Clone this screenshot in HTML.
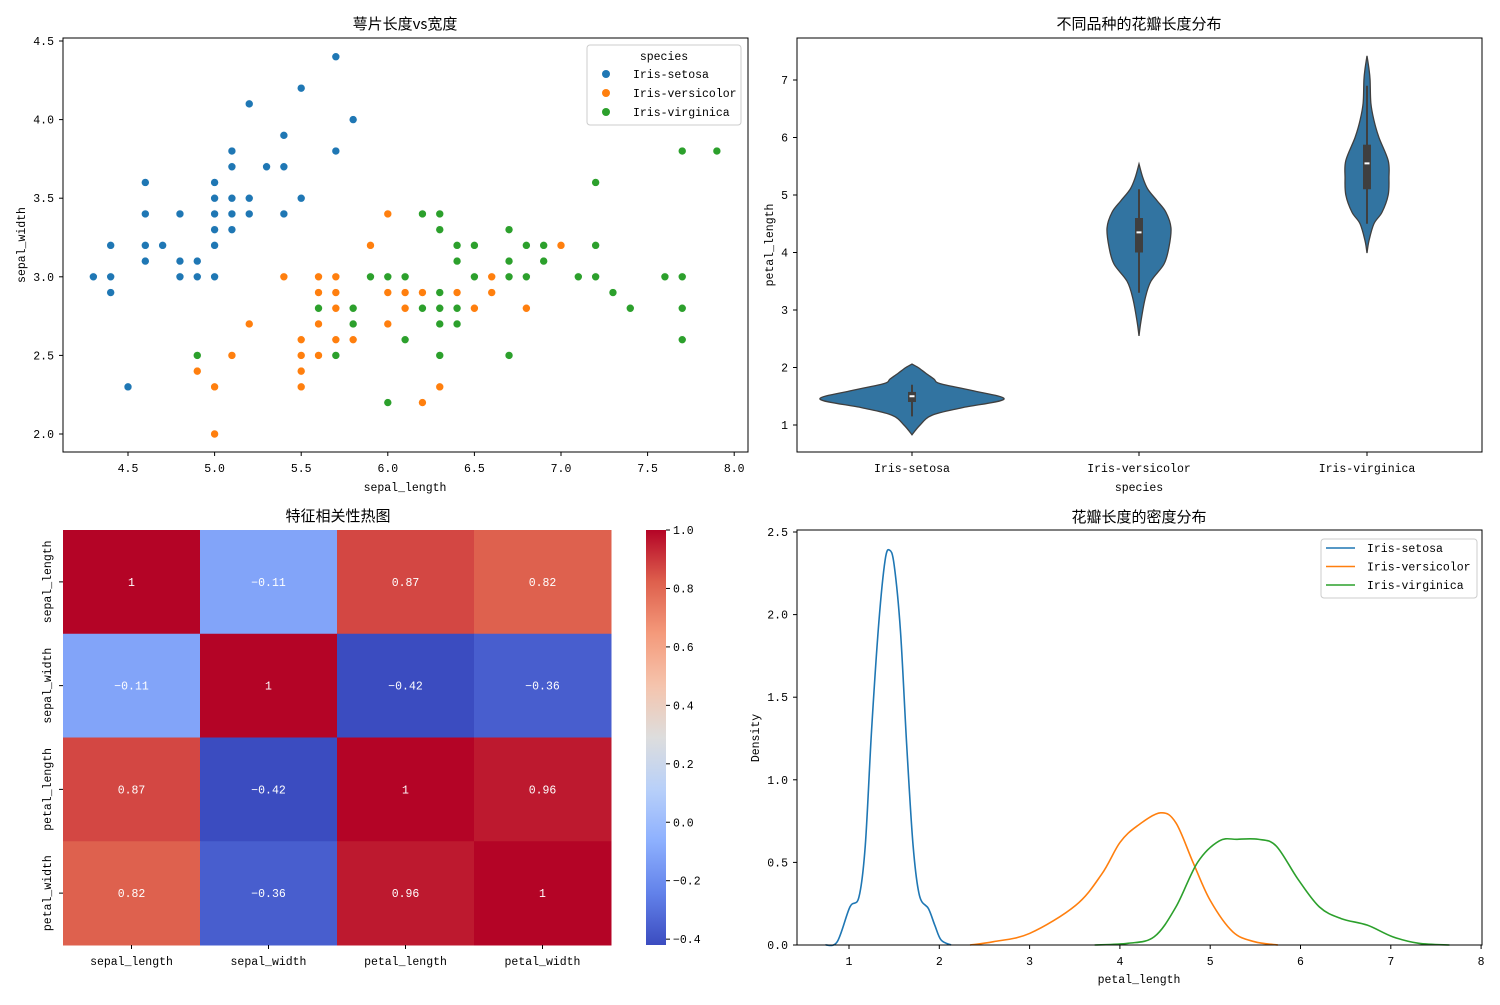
<!DOCTYPE html>
<html><head><meta charset="utf-8"><style>
body{margin:0;background:#fff}
svg text{font-family:"Liberation Mono","WenQuanYi Zen Hei",monospace;fill:#000}
svg text.cjk{font-family:"WenQuanYi Zen Hei","Noto Sans CJK SC",sans-serif}
</style></head><body>
<svg id="c" width="1500" height="1000" xmlns="http://www.w3.org/2000/svg"></svg>
<script>
// ---------- data ----------
const speciesNames=["Iris-setosa","Iris-versicolor","Iris-virginica"];
const speciesColors=["#1f77b4","#ff7f0e","#2ca02c"];
const setosaSL=[4.3,4.4,4.4,4.4,4.5,4.6,4.6,4.6,4.6,4.7,4.8,4.8,4.8,4.9,4.9,5.0,5.0,5.0,5.0,5.0,5.0,5.1,5.1,5.1,5.1,5.1,5.2,5.2,5.2,5.3,5.4,5.4,5.4,5.5,5.5,5.7,5.7,5.8];
const setosaSW=[3.0,3.2,3.0,2.9,2.3,3.6,3.4,3.2,3.1,3.2,3.4,3.1,3.0,3.1,3.0,3.6,3.5,3.4,3.3,3.2,3.0,3.8,3.7,3.5,3.4,3.3,4.1,3.5,3.4,3.7,3.9,3.7,3.4,4.2,3.5,4.4,3.8,4.0];
const versiSL=[5.4,6.0,5.9,5.6,5.7,5.6,5.7,6.0,6.1,5.7,6.1,5.2,5.6,6.0,5.5,5.7,5.8,5.1,5.5,5.6,4.9,5.5,5.0,5.5,5.0,7.0,6.6,6.1,6.2,6.4,6.6,6.1,6.5,6.8,6.3,6.2];
const versiSW=[3.0,3.4,3.2,3.0,3.0,2.9,2.9,2.9,2.9,2.8,2.8,2.7,2.7,2.7,2.6,2.6,2.6,2.5,2.5,2.5,2.4,2.4,2.3,2.3,2.0,3.2,3.0,2.9,2.9,2.9,2.9,2.8,2.8,2.8,2.3,2.2];
const virgSL=[5.8,5.6,5.8,4.9,5.7,5.9,6.0,6.1,6.1,6.0,7.7,7.9,7.2,6.2,6.3,6.3,6.7,6.4,6.5,6.8,6.9,7.2,6.4,6.7,6.9,6.1,6.5,6.7,6.8,7.1,7.2,7.6,7.7,6.3,7.3,6.2,6.3,6.4,7.4,7.7,6.3,6.4,6.1,7.7,6.3,6.7];
const virgSW=[2.8,2.8,2.7,2.5,2.5,3.0,3.0,3.0,2.6,2.2,3.8,3.8,3.6,3.4,3.4,3.3,3.3,3.2,3.2,3.2,3.2,3.2,3.1,3.1,3.1,3.0,3.0,3.0,3.0,3.0,3.0,3.0,3.0,2.9,2.9,2.8,2.8,2.8,2.8,2.8,2.7,2.7,2.6,2.6,2.5,2.5];
const scatterXTicks=[4.5,5.0,5.5,6.0,6.5,7.0,7.5,8.0];
const scatterYTicks=[2.0,2.5,3.0,3.5,4.0,4.5];

const setosaVY=[0.83,1.0,1.17,1.3,1.45,1.6,1.72,1.8,1.9,2.0,2.06];
const setosaVD=[0,0.21,0.52,1.3,2.39,1.56,0.73,0.57,0.36,0.16,0];
const versiVY=[2.55,2.8,3.2,3.5,3.8,4.1,4.43,4.7,4.9,5.1,5.3,5.54];
const versiVD=[0,0.05,0.16,0.31,0.65,0.78,0.83,0.7,0.47,0.23,0.1,0];
const virgVY=[3.99,4.2,4.5,4.7,5.0,5.3,5.6,6.0,6.3,6.6,7.0,7.2,7.42];
const virgVD=[0,0.05,0.18,0.39,0.55,0.57,0.55,0.31,0.18,0.1,0.08,0.05,0];
const boxQ1=[1.4,4.0,5.1],boxQ3=[1.575,4.6,5.875],boxMed=[1.5,4.35,5.55],whiskLo=[1.15,3.3,4.5],whiskHi=[1.7,5.1,6.9];
const violinYTicks=[1,2,3,4,5,6,7];

const features=["sepal_length","sepal_width","petal_length","petal_width"];
const corrRow0=[1,-0.11,0.87,0.82];
const corrRow1=[-0.11,1,-0.42,-0.36];
const corrRow2=[0.87,-0.42,1,0.96];
const corrRow3=[0.82,-0.36,0.96,1];
const corrLabels=[["1","-0.11","0.87","0.82"],["-0.11","1","-0.42","-0.36"],["0.87","-0.42","1","0.96"],["0.82","-0.36","0.96","1"]];
const cbarTicks=[-0.4,-0.2,0.0,0.2,0.4,0.6,0.8,1.0];

const kdeSetX=[0.74,0.87,1.01,1.11,1.18,1.25,1.33,1.40,1.45,1.50,1.57,1.64,1.71,1.78,1.88,1.95,2.02,2.13];
const kdeSetY=[0,0.02,0.23,0.29,0.6,1.3,1.95,2.33,2.39,2.3,1.9,1.2,0.6,0.3,0.22,0.12,0.03,0];
const kdeVerX=[2.34,2.6,3.0,3.51,3.8,4.0,4.19,4.45,4.62,4.81,5.0,5.25,5.49,5.75];
const kdeVerY=[0,0.02,0.07,0.24,0.43,0.62,0.72,0.8,0.74,0.5,0.27,0.08,0.02,0];
const kdeVirX=[3.72,4.09,4.38,4.62,4.86,5.1,5.3,5.53,5.73,5.97,6.21,6.45,6.74,7.02,7.31,7.65];
const kdeVirY=[0,0.01,0.05,0.23,0.5,0.63,0.64,0.64,0.6,0.4,0.23,0.16,0.12,0.05,0.01,0];
const kdeXTicks=[1,2,3,4,5,6,7,8];
const kdeYTicks=[0.0,0.5,1.0,1.5,2.0,2.5];

// ---------- helpers ----------
const NS="http://www.w3.org/2000/svg";const svg=document.getElementById('c');
function mk(tag,attrs,parent){const e=document.createElementNS(NS,tag);for(const k in attrs)e.setAttribute(k,attrs[k]);(parent||svg).appendChild(e);return e;}
function txt(s,x,y,size,anchor,parent,rot){const e=mk('text',{x:x,y:y,'font-size':size,'text-anchor':anchor||'middle'},parent);if(rot)e.setAttribute('transform','rotate(-90 '+x+' '+y+')');e.textContent=s;return e;}
function fmt(v){return v.toFixed(1).replace('-','−');}
function smooth(pts){let d='M'+pts[0][0]+','+pts[0][1];for(let i=0;i<pts.length-1;i++){const p0=pts[i-1]||pts[i],p1=pts[i],p2=pts[i+1],p3=pts[i+2]||p2;const c1=[p1[0]+(p2[0]-p0[0])/6,p1[1]+(p2[1]-p0[1])/6],c2=[p2[0]-(p3[0]-p1[0])/6,p2[1]-(p3[1]-p1[1])/6];d+=' C'+c1[0]+','+c1[1]+' '+c2[0]+','+c2[1]+' '+p2[0]+','+p2[1];}return d;}
function frame(x0,y0,x1,y1,name){const r=mk('rect',{x:x0,y:y0,width:x1-x0,height:y1-y0,fill:'none',stroke:'#000','stroke-width':1});}
const FS=11.5;

// ---------- scatter ----------
(function(){
const g=mk('g',{});
const sx=v=>128+(v-4.5)*173.2, sy=v=>434-(v-2.0)*157.2;
const xs=[setosaSL,versiSL,virgSL],ys=[setosaSW,versiSW,virgSW];
for(let s=0;s<3;s++)for(let i=0;i<xs[s].length;i++){const c=mk('circle',{cx:sx(xs[s][i]),cy:sy(ys[s][i]),r:4,fill:speciesColors[s],stroke:'#fff','stroke-width':0.6},g);}
frame(63,38,748,452,'scatter-frame');
scatterXTicks.forEach(v=>{mk('line',{x1:sx(v),x2:sx(v),y1:452,y2:456,stroke:'#000'},g);const t=txt(fmt(v),sx(v),472,FS,'middle',g);});
scatterYTicks.forEach(v=>{mk('line',{x1:59,x2:63,y1:sy(v),y2:sy(v),stroke:'#000'},g);const t=txt(fmt(v),54,sy(v)+4,FS,'end',g);});
let t=txt('萼片长度vs宽度',405,29,15,'middle',g);t.setAttribute('class','cjk');
t=txt('sepal_length',405,491,FS,'middle',g);
t=txt('sepal_width',25,245,FS,'middle',g,true);
const lg=mk('g',{},g);
mk('rect',{x:587,y:45,width:154,height:80,rx:3,fill:'#fff','fill-opacity':0.8,stroke:'#ccc'},lg);
txt('species',664,60,FS,'middle',lg);
speciesNames.forEach((n,i)=>{const e=mk('circle',{cx:606,cy:74+i*19,r:4,fill:speciesColors[i]},lg);const tt=txt(n,633,78+i*19,FS,'start',lg);});
})();

// ---------- violin ----------
(function(){
const g=mk('g',{});
const vy=v=>425-(v-1)*57.5, cx=[912,1139,1367], wScale=38.5;
const YS=[setosaVY,versiVY,virgVY],DS=[setosaVD,versiVD,virgVD];
for(let s=0;s<3;s++){
 const right=YS[s].map((y,i)=>[cx[s]+DS[s][i]*wScale,vy(y)]);
 const left=YS[s].map((y,i)=>[cx[s]-DS[s][i]*wScale,vy(y)]).reverse();
 const d=smooth(right)+' L'+left[0][0]+','+left[0][1]+' '+smooth(left).slice(1)+' Z';
 const p=mk('path',{d:d,fill:'#3274a1',stroke:'#3f3f3f','stroke-width':1.3},g);
 mk('line',{x1:cx[s],x2:cx[s],y1:vy(whiskLo[s]),y2:vy(whiskHi[s]),stroke:'#3f3f3f','stroke-width':2},g);
 const b=mk('rect',{x:cx[s]-4,y:vy(boxQ3[s]),width:8,height:vy(boxQ1[s])-vy(boxQ3[s]),fill:'#3f3f3f'},g);
 mk('line',{x1:cx[s]-2.5,x2:cx[s]+2.5,y1:vy(boxMed[s]),y2:vy(boxMed[s]),stroke:'#fff','stroke-width':2},g);
 mk('line',{x1:cx[s],x2:cx[s],y1:452,y2:456,stroke:'#000'},g);
 const t=txt(speciesNames[s],cx[s],472,FS,'middle',g);
}
frame(797,38,1482,452,'violin-frame');
violinYTicks.forEach(v=>{mk('line',{x1:793,x2:797,y1:vy(v),y2:vy(v),stroke:'#000'},g);const t=txt(String(v),788,vy(v)+4,FS,'end',g);});
let t=txt('不同品种的花瓣长度分布',1139,29,15,'middle',g);t.setAttribute('class','cjk');
t=txt('species',1139,491,FS,'middle',g);
t=txt('petal_length',773,245,FS,'middle',g,true);
})();

// ---------- heatmap ----------
const cwStops=[[59,76,192],[98,130,234],[141,176,254],[184,208,249],[221,221,221],[245,196,173],[244,154,123],[222,96,77],[180,4,38]];
function coolwarm(t){t=Math.max(0,Math.min(1,t));const f=t*8,i=Math.min(7,Math.floor(f)),r=f-i,a=cwStops[i],b=cwStops[i+1];return 'rgb('+a.map((v,k)=>Math.round(v+(b[k]-v)*r)).join(',')+')';}
(function(){
const g=mk('g',{});
const rows=[corrRow0,corrRow1,corrRow2,corrRow3];const vmin=-0.42,vmax=1;
const x0=63,y0=530,cw=137,ch=103.75;
rows.forEach((row,r)=>row.forEach((v,c)=>{
 const rc=mk('rect',{x:x0+c*cw,y:y0+r*ch,width:cw+0.5,height:ch+0.5,fill:coolwarm((v-vmin)/(vmax-vmin))},g);
 const t=txt(corrLabels[r][c].replace('-','−'),x0+c*cw+cw/2,y0+r*ch+ch/2+4,FS,'middle',g);t.style.fill='#fff';
}));
features.forEach((f,i)=>{
 mk('line',{x1:x0+i*cw+cw/2,x2:x0+i*cw+cw/2,y1:945,y2:949,stroke:'#000'},g);
 let t=txt(f,x0+i*cw+cw/2,965,FS,'middle',g);
 mk('line',{x1:59,x2:63,y1:y0+i*ch+ch/2,y2:y0+i*ch+ch/2,stroke:'#000'},g);
 t=txt(f,51,y0+i*ch+ch/2,FS,'middle',g,true);
});
let t=txt('特征相关性热图',338,521,15,'middle',g);t.setAttribute('class','cjk');
const cb=mk('g',{},g);
const defs=mk('defs',{},cb);const lgd=mk('linearGradient',{id:'cwg',x1:0,y1:1,x2:0,y2:0},defs);
for(let i=0;i<=16;i++)mk('stop',{offset:i/16,'stop-color':coolwarm(i/16)},lgd);
mk('rect',{x:646,y:530,width:20,height:415,fill:'url(#cwg)'},cb);
const cy=v=>945-(v-vmin)/(vmax-vmin)*415;
cbarTicks.forEach(v=>{mk('line',{x1:666,x2:670,y1:cy(v),y2:cy(v),stroke:'#000'},cb);const tt=txt(fmt(v),673,cy(v)+4,FS,'start',cb);});
})();

// ---------- KDE ----------
(function(){
const g=mk('g',{});
const kx=v=>849+(v-1)*90.3, ky=v=>945-v*165.2;
const XS=[kdeSetX,kdeVerX,kdeVirX],YS=[kdeSetY,kdeVerY,kdeVirY];
for(let s=0;s<3;s++){const p=mk('path',{d:smooth(XS[s].map((x,i)=>[kx(x),ky(YS[s][i])])),fill:'none',stroke:speciesColors[s],'stroke-width':1.6},g);}
frame(797,530,1482,945,'kde-frame');
kdeXTicks.forEach(v=>{mk('line',{x1:kx(v),x2:kx(v),y1:945,y2:949,stroke:'#000'},g);const t=txt(String(v),kx(v),965,FS,'middle',g);});
kdeYTicks.forEach(v=>{mk('line',{x1:793,x2:797,y1:ky(v),y2:ky(v),stroke:'#000'},g);const t=txt(fmt(v),788,ky(v)+4,FS,'end',g);});
let t=txt('花瓣长度的密度分布',1139,522,15,'middle',g);t.setAttribute('class','cjk');
t=txt('petal_length',1139,983,FS,'middle',g);
t=txt('Density',759,738,FS,'middle',g,true);
const lg=mk('g',{},g);
mk('rect',{x:1321,y:539,width:156,height:59,rx:3,fill:'#fff','fill-opacity':0.8,stroke:'#ccc'},lg);
speciesNames.forEach((n,i)=>{mk('line',{x1:1326,x2:1355,y1:548+i*18.5,y2:548+i*18.5,stroke:speciesColors[i],'stroke-width':1.6},lg);const tt=txt(n,1367,552+i*18.5,FS,'start',lg);});
})();
</script>
</body></html>
